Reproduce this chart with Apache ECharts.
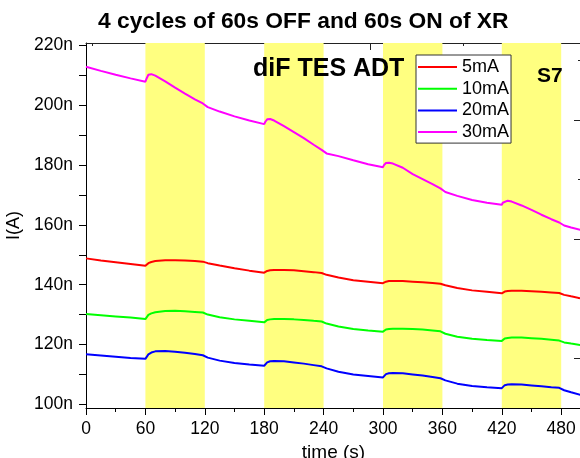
<!DOCTYPE html>
<html>
<head>
<meta charset="utf-8">
<script src="https://cdn.jsdelivr.net/npm/echarts@6/dist/echarts.min.js"></script>
<style>
  html, body { margin: 0; padding: 0; background: #fff; }
  #chart { width: 580px; height: 458px; }
</style>
</head>
<body>
<div id="chart"></div>
<script>
// Time samples (s)
const time = [0, 15, 30, 45,
  60, 61, 63, 66, 70, 80, 90, 100, 110, 118, 120, 123, 135, 150, 165,
  180, 181, 183, 186, 190, 200, 210, 220, 230, 238, 240, 243, 255, 270, 285,
  300, 301, 303, 306, 310, 320, 330, 340, 350, 358, 360, 363, 375, 390, 405,
  420, 421, 423, 426, 430, 440, 450, 460, 470, 478, 480, 483, 490, 500];

// Current (nA) per bias level
const i5mA = [148.8, 148.1, 147.5, 146.9,
  146.3, 146.7, 147.2, 147.6, 147.9, 148.2, 148.2, 148.1, 147.9, 147.7, 147.6, 147.2, 146.4, 145.5, 144.7,
  144.0, 144.3, 144.6, 144.8, 144.9, 144.9, 144.8, 144.5, 144.2, 143.9, 143.8, 143.3, 142.4, 141.5, 141.0,
  140.5, 140.8, 141.0, 141.2, 141.2, 141.2, 141.0, 140.8, 140.6, 140.3, 140.2, 139.8, 138.9, 138.1, 137.6,
  137.1, 137.4, 137.7, 137.9, 138.0, 138.0, 137.8, 137.6, 137.4, 137.2, 137.1, 136.6, 136.1, 135.4];

const i10mA = [130.2, 129.8, 129.4, 129.0,
  128.5, 129.1, 129.9, 130.4, 130.8, 131.2, 131.3, 131.1, 130.9, 130.7, 130.6, 130.0, 129.1, 128.4, 127.9,
  127.4, 127.8, 128.2, 128.4, 128.5, 128.5, 128.4, 128.2, 127.9, 127.7, 127.6, 127.0, 126.0, 125.2, 124.7,
  124.3, 124.7, 125.0, 125.2, 125.3, 125.3, 125.2, 125.0, 124.7, 124.4, 124.2, 123.6, 122.6, 121.9, 121.5,
  121.2, 121.6, 122.0, 122.2, 122.3, 122.3, 122.1, 121.9, 121.6, 121.3, 121.2, 120.7, 120.3, 119.8];

const i20mA = [116.7, 116.3, 115.9, 115.5,
  115.2, 115.8, 116.7, 117.3, 117.7, 117.8, 117.6, 117.2, 116.8, 116.4, 116.2, 115.6, 114.6, 113.8, 113.3,
  112.9, 113.4, 114.0, 114.4, 114.5, 114.4, 114.0, 113.6, 113.1, 112.7, 112.6, 112.0, 110.9, 110.0, 109.5,
  109.0, 109.5, 110.1, 110.4, 110.5, 110.4, 110.0, 109.6, 109.1, 108.7, 108.6, 108.0, 106.9, 106.1, 105.7,
  105.4, 105.9, 106.4, 106.6, 106.7, 106.6, 106.3, 106.0, 105.7, 105.5, 105.4, 104.7, 104.0, 103.1];

const i30mA = [212.9, 211.5, 210.2, 209.0,
  207.9, 208.8, 210.2, 210.4, 209.9, 208.0, 205.9, 203.9, 202.0, 200.6, 200.1, 199.4, 197.9, 196.3, 194.9,
  193.7, 194.4, 195.3, 195.4, 194.9, 193.0, 191.0, 189.0, 186.8, 185.1, 184.5, 183.9, 183.0, 181.6, 180.3,
  179.3, 180.0, 180.7, 180.8, 180.5, 179.1, 177.0, 175.3, 173.6, 172.2, 171.7, 171.0, 169.7, 168.3, 167.4,
  166.7, 167.4, 168.0, 168.1, 167.8, 166.5, 165.0, 163.4, 161.9, 160.8, 160.5, 159.8, 159.1, 158.3];

const seriesNames = ['5mA', '10mA', '20mA', '30mA'];
const seriesColors = ['#ff0000', '#00ff00', '#0000ff', '#ff00ff'];

// X-ray ON windows (s)
const onPeriods = [[60, 120], [180, 240], [300, 360], [420, 480]];

// Tick values
const xMajorTicks = [0, 60, 120, 180, 240, 300, 360, 420, 480];
const xMinorTicks = [30, 90, 150, 210, 270, 330, 390, 450];
const yTicks = [100, 110, 120, 130, 140, 150, 160, 170, 180, 190, 200, 210, 220];
const yLabels = [100, 120, 140, 160, 180, 200, 220];
const topMajorTicks = [0, 1, 2];
const topMinorTicks = [-0.5, 0.5, 1.5];
const rightMajorTicks = [0, 1, 2];
const rightMinorTicks = [0.5, 1.5, 2.5];

const allData = [i5mA, i10mA, i20mA, i30mA];
const pairs = arr => time.map((t, k) => [t, arr[k]]);

const FONT = 'Liberation Sans, Arial, sans-serif';
const chart = echarts.init(document.getElementById('chart'), null, { renderer: 'canvas' });

const lineSeries = seriesNames.map((name, k) => ({
  name: name,
  type: 'line',
  xAxisIndex: 0,
  yAxisIndex: 0,
  data: pairs(allData[k]),
  symbol: 'none',
  z: 3,
  lineStyle: { color: seriesColors[k], width: 2 },
  itemStyle: { color: seriesColors[k] },
  animation: false
}));

// Plain axis helper: fixed to the frame edge, never moved onto a zero crossing
function frameAxis(extra) {
  return Object.assign({
    type: 'value',
    splitLine: { show: false },
    axisLabel: { show: false }
  }, extra);
}

chart.setOption({
  animation: false,
  textStyle: { fontFamily: FONT },
  title: [
    {
      text: '4 cycles of 60s OFF and 60s ON of XR',
      left: 98, top: 10, padding: 0,
      textStyle: { fontSize: 22.8, fontWeight: 'bold', color: '#000', fontFamily: FONT }
    },
    {
      text: 'diF TES ADT',
      left: 253, top: 57, padding: 0,
      textStyle: { fontSize: 25, fontWeight: 'bold', color: '#000', fontFamily: FONT }
    },
    {
      text: 'S7',
      left: 537, top: 66, padding: 0,
      textStyle: { fontSize: 21, fontWeight: 'bold', color: '#000', fontFamily: FONT }
    }
  ],
  legend: {
    data: seriesNames,
    orient: 'vertical',
    left: 416, top: 55,
    padding: [3, 2, 2, 2],
    icon: 'rect',
    itemWidth: 39, itemHeight: 2, itemGap: 3.7,
    backgroundColor: '#fff',
    borderColor: '#333', borderWidth: 1,
    textStyle: { fontSize: 18, color: '#000', fontFamily: FONT }
  },
  grid: { left: 86, top: 43, right: -1, bottom: 50, containLabel: false, outerBoundsMode: 'none' },
  xAxis: [
    frameAxis({
      position: 'bottom', min: 0, max: 500,
      name: 'time (s)', nameLocation: 'middle', nameGap: 33,
      nameTextStyle: { fontSize: 19, color: '#000', fontFamily: FONT },
      axisLine: { show: true, onZero: false, lineStyle: { color: '#000', width: 1 } },
      axisTick: { show: true, customValues: xMajorTicks, length: 7, lineStyle: { color: '#000' } },
      axisLabel: { show: true, customValues: xMajorTicks, fontSize: 17.5, color: '#000', margin: 12, fontFamily: FONT }
    }),
    frameAxis({
      position: 'bottom', min: 0, max: 500,
      axisLine: { show: false, onZero: false },
      axisTick: { show: true, customValues: xMinorTicks, length: 4, lineStyle: { color: '#000' } }
    }),
    frameAxis({
      position: 'top', min: -0.534, max: 2.135,
      axisLine: { show: true, onZero: false, lineStyle: { color: '#222', width: 1 } },
      axisTick: { show: true, inside: true, customValues: topMajorTicks, length: 7, lineStyle: { color: '#222' } }
    }),
    frameAxis({
      position: 'top', min: -0.534, max: 2.135,
      axisLine: { show: false, onZero: false },
      axisTick: { show: true, inside: true, customValues: topMinorTicks, length: 3, lineStyle: { color: '#222' } }
    })
  ],
  yAxis: [
    frameAxis({
      position: 'left', min: 98.76, max: 220.83,
      name: 'I(A)', nameLocation: 'middle', nameGap: 56,
      nameTextStyle: { fontSize: 18, color: '#000', fontFamily: FONT },
      axisLine: { show: true, onZero: false, lineStyle: { color: '#000', width: 1 } },
      axisTick: { show: true, customValues: yTicks, length: 7, lineStyle: { color: '#000' } },
      axisLabel: {
        show: true, customValues: yLabels, fontSize: 17.5, color: '#000', margin: 13, fontFamily: FONT,
        formatter: v => v + 'n'
      }
    }),
    frameAxis({
      position: 'right', min: -0.42, max: 2.647,
      axisLine: { show: true, onZero: false, lineStyle: { color: '#222', width: 1 } },
      axisTick: { show: true, inside: true, customValues: rightMajorTicks, length: 7, lineStyle: { color: '#222' } }
    }),
    frameAxis({
      position: 'right', min: -0.42, max: 2.647,
      axisLine: { show: false, onZero: false },
      axisTick: { show: true, inside: true, customValues: rightMinorTicks, length: 3, lineStyle: { color: '#222' } }
    })
  ],
  series: [
    {
      name: 'XR ON',
      type: 'line',
      xAxisIndex: 0, yAxisIndex: 0,
      data: [],
      z: 1,
      silent: true,
      markArea: {
        silent: true,
        itemStyle: { color: '#ffff80', opacity: 1 },
        data: onPeriods.map(p => [{ xAxis: p[0] }, { xAxis: p[1] }])
      }
    },
    ...lineSeries
  ]
});
</script>
</body>
</html>
